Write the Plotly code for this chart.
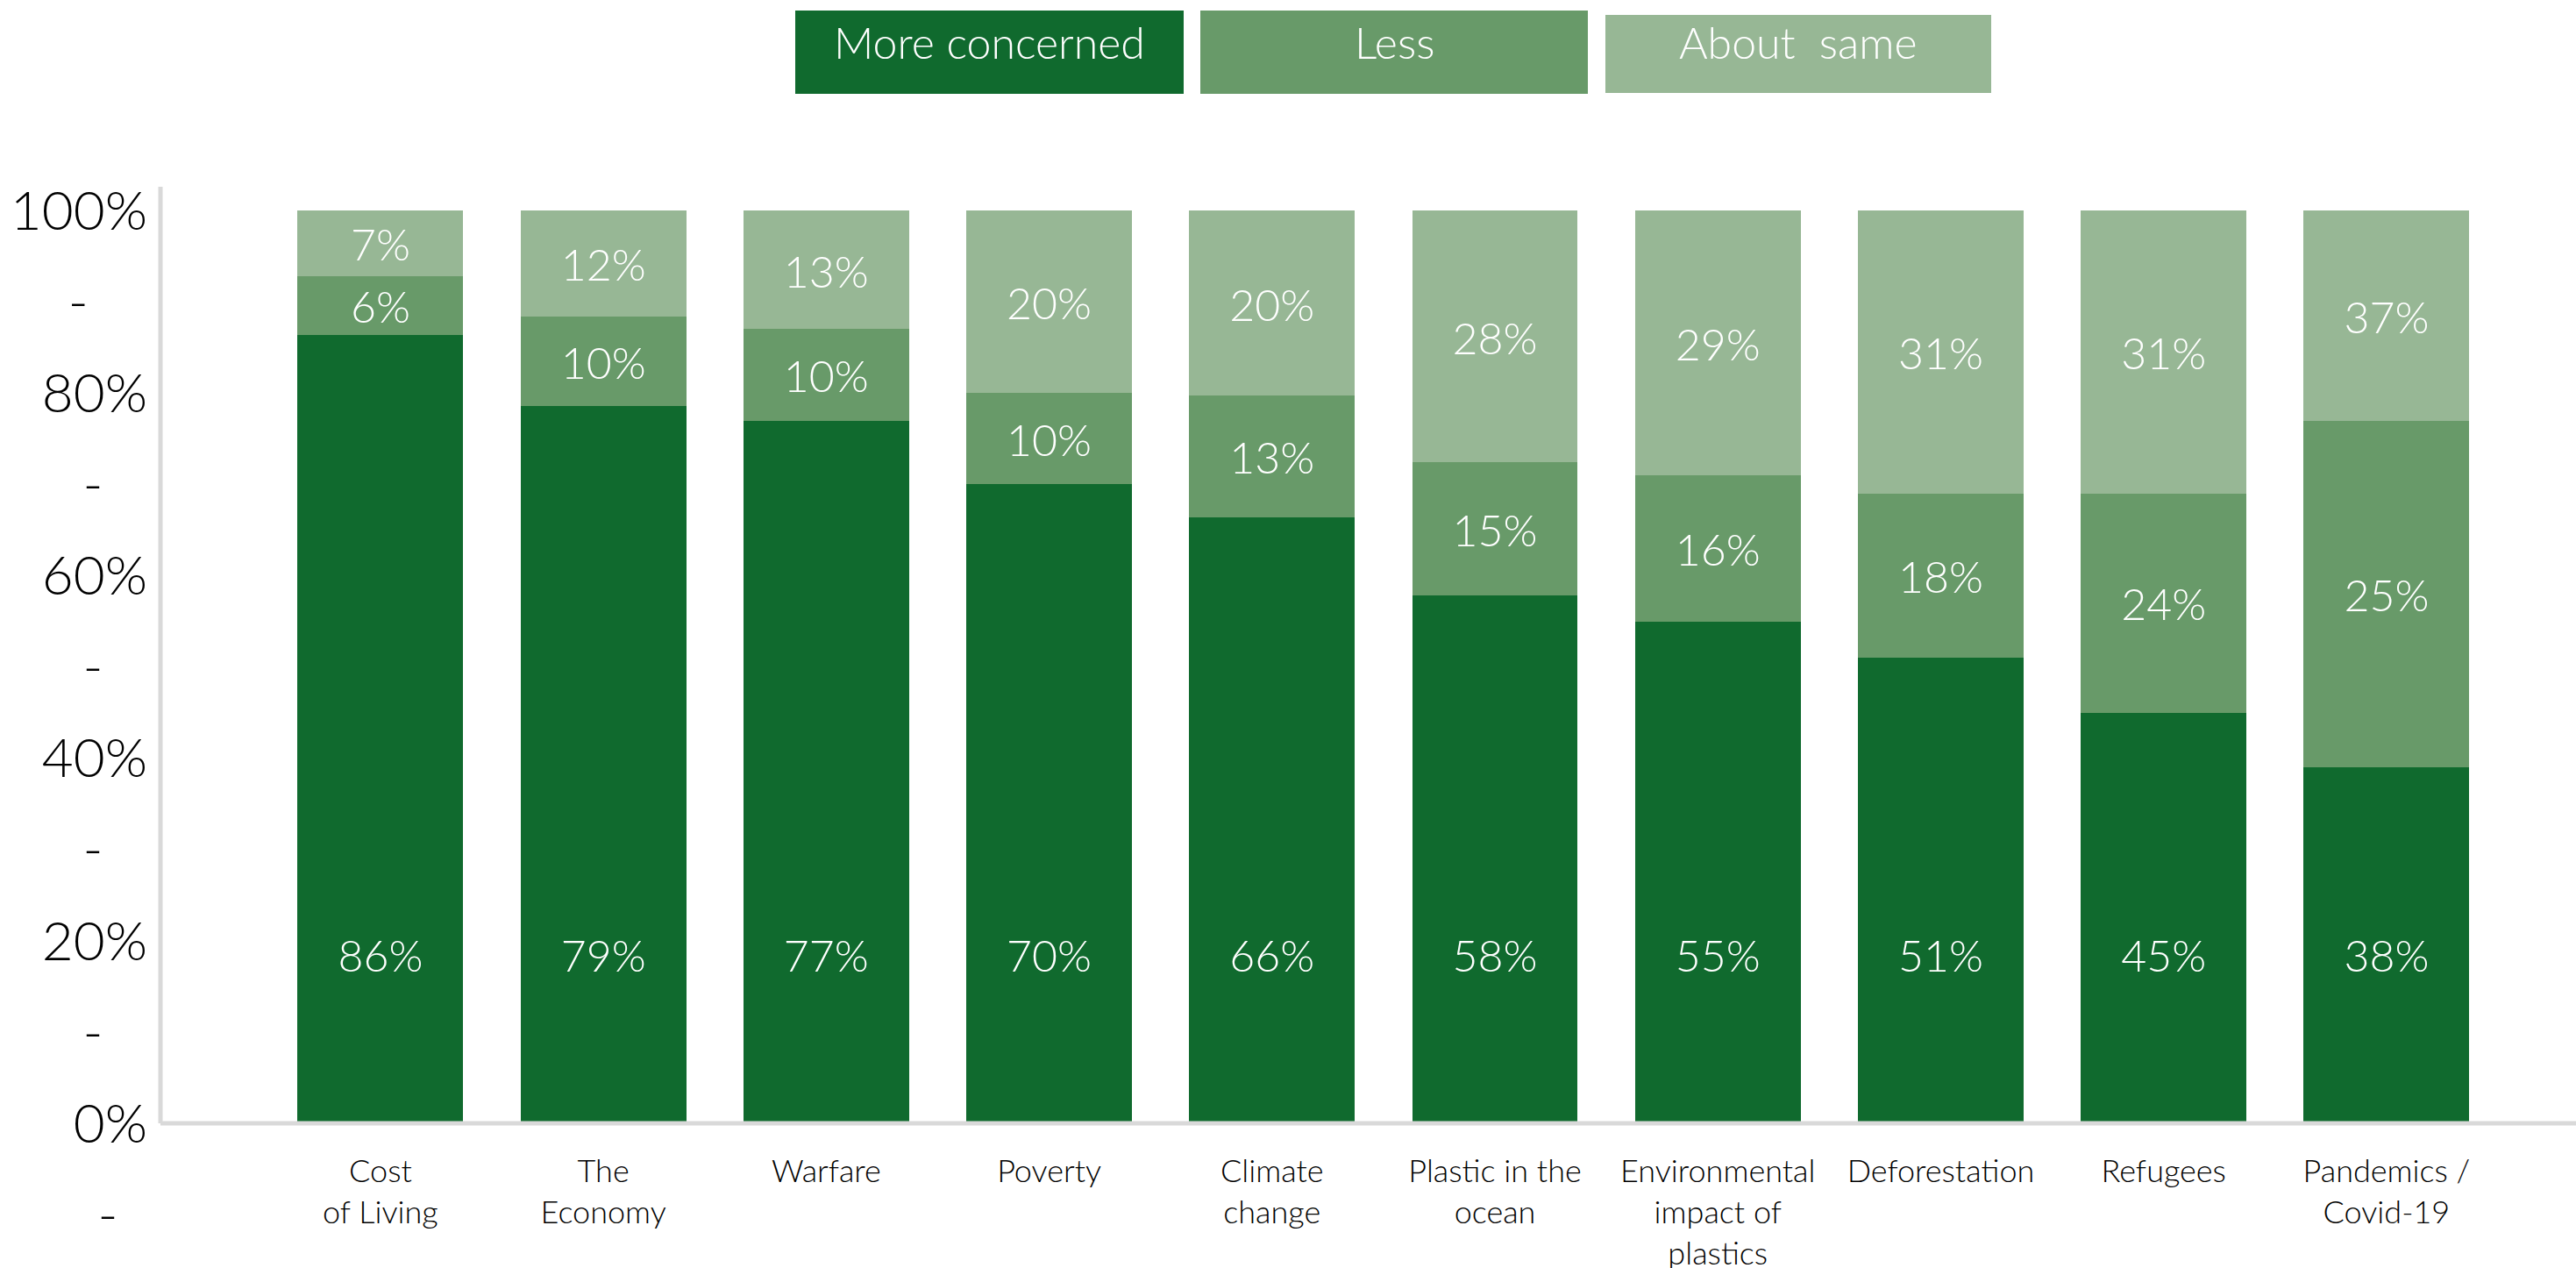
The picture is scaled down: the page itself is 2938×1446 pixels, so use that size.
import plotly.graph_objects as go

# ---------------- data ----------------
categories = ["Cost<br>of Living", "The<br>Economy", "Warfare", "Poverty", "Climate<br>change",
              "Plastic in the<br>ocean", "Environmental<br>impact of<br>plastics", "Deforestation",
              "Refugees", "Pandemics /<br>Covid-19"]

# segment heights as drawn in the picture (percent of respondents)
more_concerned = [86.4, 78.6, 77, 70, 66.4, 57.8, 55, 51, 45, 39]
less           = [6.4, 9.8, 10, 10, 13.3, 14.6, 16, 18, 24, 38]
about_same     = [7.2, 11.6, 13, 20, 20.3, 27.6, 29, 31, 31, 23]

# percentages as printed on the bars
more_labels = [86, 79, 77, 70, 66, 58, 55, 51, 45, 38]
less_labels = [6, 10, 10, 10, 13, 15, 16, 18, 24, 25]
same_labels = [7, 12, 13, 20, 20, 28, 29, 31, 31, 37]

series_names = ["More concerned", "Less", "About  same"]

ytick_vals = [-10, 0, 10, 20, 30, 40, 50, 60, 70, 80, 90, 100]
ytick_text = ["-\u00a0\u00a0", "0%", "-\u00a0\u00a0\u00a0", "20%", "-\u00a0\u00a0\u00a0", "40%",
              "-\u00a0\u00a0\u00a0", "60%", "-\u00a0\u00a0\u00a0", "80%", "-\u00a0\u00a0\u00a0\u00a0", "100%"]

# ---------------- style ----------------
COLORS = ["#106A2E", "#689A69", "#97B795"]
AXIS_GRAY = "#D9D9D9"
FONT = "Lato"
WEIGHT = 300
W, H = 2938, 1446
M_L, M_R, M_T, M_B = 183, 0, 213, 40
Y_MIN, Y_MAX = -12, 102.6
X_MIN, X_MAX = -0.987, 9.85
DARK_LABEL_Y = 17.8
LABEL_DY = -0.7

PW = W - M_L - M_R
PH = H - M_T - M_B


def px_x(px):
    return (px - M_L) / PW


def px_y(py):
    return (H - M_B - py) / PH


fig = go.Figure()
for vals, name, col in zip([more_concerned, less, about_same], series_names, COLORS):
    fig.add_trace(go.Bar(x=categories, y=vals, name=name, marker=dict(color=col, line=dict(width=0)),
                         hoverinfo="skip"))

label_font = dict(family=FONT, size=50, color="white", weight=WEIGHT)
mid_y = [m + l / 2 + LABEL_DY for m, l in zip(more_concerned, less)]
top_y = [m + l + s / 2 + LABEL_DY for m, l, s in zip(more_concerned, less, about_same)]
for ys, labs in [([DARK_LABEL_Y] * len(categories), more_labels), (mid_y, less_labels), (top_y, same_labels)]:
    fig.add_trace(go.Scatter(x=categories, y=ys, mode="text", text=[f"{v}%" for v in labs],
                             textposition="middle center", textfont=label_font,
                             cliponaxis=False, showlegend=False, hoverinfo="skip"))

# axis lines (y stops at 0, x spans to the right edge)
fig.add_shape(type="line", xref="paper", yref="y", x0=0, x1=1, y0=0, y1=0,
              line=dict(color=AXIS_GRAY, width=5))
fig.add_shape(type="line", xref="paper", yref="y", x0=0, x1=0, y0=0, y1=Y_MAX,
              line=dict(color=AXIS_GRAY, width=5))

# custom legend boxes
legend_boxes = [(907, 1350, 12, 107), (1369, 1811, 12, 107), (1831, 2271, 17, 106)]
for (x0, x1, y0, y1), name, col in zip(legend_boxes, series_names, COLORS):
    fig.add_shape(type="rect", xref="paper", yref="paper", x0=px_x(x0), x1=px_x(x1),
                  y0=px_y(y1), y1=px_y(y0), fillcolor=col, line=dict(width=0))
    fig.add_annotation(xref="paper", yref="paper", x=px_x((x0 + x1) / 2), y=px_y(48),
                       text=name, showarrow=False, xanchor="center", yanchor="middle",
                       font=dict(family=FONT, size=50, color="white", weight=WEIGHT))

fig.update_layout(
    width=W, height=H,
    margin=dict(l=M_L, r=M_R, t=M_T, b=M_B, autoexpand=False),
    barmode="stack", bargap=0.257,
    plot_bgcolor="white", paper_bgcolor="white",
    showlegend=False,
    font=dict(family=FONT, color="#000000", weight=WEIGHT),
    xaxis=dict(range=[X_MIN, X_MAX], showgrid=False, zeroline=False, showline=False,
               anchor="free", position=(0 - Y_MIN) / (Y_MAX - Y_MIN), automargin=False,
               tickfont=dict(family=FONT, size=36, color="#000000", weight=WEIGHT),
               ticks="", ticklabelstandoff=30, tickangle=0),
    yaxis=dict(range=[Y_MIN, Y_MAX], showgrid=False, zeroline=False, showline=False,
               automargin=False,
               tickvals=ytick_vals, ticktext=ytick_text, ticks="",
               tickfont=dict(family=FONT, size=62, color="#000000", weight=WEIGHT),
               ticklabelstandoff=14),
)

fig.write_html("out.html", config={"displayModeBar": False},
               post_script="document.body.style.margin='0';document.body.style.overflow='hidden';")
